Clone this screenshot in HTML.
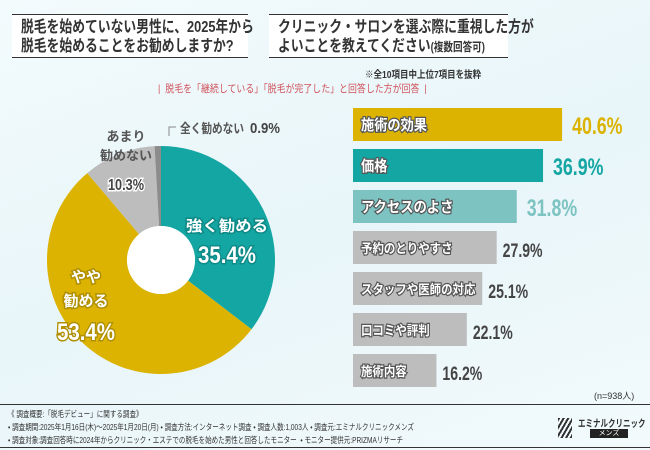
<!DOCTYPE html>
<html><head><meta charset="utf-8"><style>
body{margin:0}
#root{position:relative;width:650px;height:450px;overflow:hidden;background:linear-gradient(160deg,#f3fbfd 0%,#e8f5f9 50%,#f2fafc 100%);font-family:"Liberation Sans","Noto Sans CJK JP",sans-serif;color:#333}
.tb{position:absolute;background:#fff;border-top:1.5px solid #333;border-bottom:1.5px solid #333;box-sizing:border-box}
.tb span{position:absolute;left:9px;top:3px;display:block;white-space:nowrap;font-size:16px;font-weight:bold;line-height:19px;transform:scaleX(0.8);transform-origin:0 0}
.ft{position:absolute;left:8px;font-size:8.5px;color:#333;white-space:nowrap;transform:scaleX(0.77);transform-origin:0 0}
</style></head><body>
<div id="root">
<div class="tb" style="left:12px;top:14px;width:236px;height:44px"><span>脱毛を始めていない男性に、2025年から<br>脱毛を始めることをお勧めしますか?</span></div>
<div class="tb" style="left:269px;top:14px;width:239px;height:44px"><span>クリニック・サロンを選ぶ際に重視した方が<br>よいことを教えてください<small style="font-size:12px">(複数回答可)</small></span></div>
<div style="position:absolute;left:365px;top:66px;font-size:10px;font-weight:bold;white-space:nowrap;transform:scaleX(0.85);transform-origin:0 0">※全10項目中上位7項目を抜粋</div>
<div style="position:absolute;left:158px;top:81px;font-size:10.5px;color:#d0525a;white-space:nowrap;transform:scaleX(0.85);transform-origin:0 0">|&nbsp; 脱毛を「継続している」「脱毛が完了した」と回答した方が回答 &nbsp;|</div>
<svg id="chart" width="650" height="450" style="position:absolute;left:0;top:0"></svg>
<div style="position:absolute;left:594px;top:389px;font-size:9px">(n=938人)</div>
<div style="position:absolute;left:0;top:404px;width:650px;border-top:1px solid #333"></div>
<div style="position:absolute;left:0;top:447px;width:650px;border-top:1px solid #333"></div>
<div class="ft" style="top:408px">《 調査概要:「脱毛デビュー」に関する調査》</div>
<div class="ft" style="top:421px">• 調査期間:2025年1月16日(木)〜2025年1月20日(月) • 調査方法:インターネット調査 • 調査人数:1,003人 • 調査元:エミナルクリニックメンズ</div>
<div class="ft" style="top:434px">• 調査対象:調査回答時に2024年からクリニック・エステでの脱毛を始めた男性と回答したモニター &nbsp;• モニター提供元:PRIZMAリサーチ</div>
<div style="position:absolute;left:558px;top:418px;width:14px;height:20px;background:repeating-linear-gradient(120deg,#333 0 2px,transparent 2px 4px)"></div>
<div style="position:absolute;left:578px;top:415px;font-size:10px;font-weight:bold;white-space:nowrap;transform:scaleX(0.75);transform-origin:0 0">エミナルクリニック</div>
<div style="position:absolute;left:590px;top:429px;width:38px;height:9px;background:#222;color:#fff;font-size:7px;text-align:center;line-height:9px">メンズ</div>
</div>
<script>
const pieLabels=["強く勧める","やや勧める","あまり勧めない","全く勧めない"];
const pieValues=[35.4,53.4,10.3,0.9];
const pieColors=["#14a6a3","#dbb300","#bdbdbd","#8c8c8c"];
const barLabels=["施術の効果","価格","アクセスのよさ","予約のとりやすさ","スタッフや医師の対応","口コミや評判","施術内容"];
const barValues=[40.6,36.9,31.8,27.9,25.1,22.1,16.2];
const barColors=["#dbb300","#14a6a3","#7cc3c1","#bdbdbd","#bdbdbd","#bdbdbd","#bdbdbd"];
const valColors=["#dbb300","#14a6a3","#7cc3c1","#444","#444","#444","#444"];
const NS="http://www.w3.org/2000/svg";
const svg=document.getElementById('chart');
function mk(t,a){const e=document.createElementNS(NS,t);for(const k in a)e.setAttribute(k,a[k]);svg.appendChild(e);return e;}
const cx=161,cy=260,R=114,r0=34;
function pt(rad,frac){const a=frac*2*Math.PI-Math.PI/2;return [cx+rad*Math.cos(a),cy+rad*Math.sin(a)];}
let acc=0;const tot=pieValues.reduce((a,b)=>a+b,0);
pieValues.forEach((v,i)=>{const f0=acc/tot,f1=(acc+v)/tot;acc+=v;
const [x0,y0]=pt(R,f0),[x1,y1]=pt(R,f1),[x2,y2]=pt(r0,f1),[x3,y3]=pt(r0,f0);const lg=(f1-f0)>0.5?1:0;
const p=mk('path',{d:`M${x0},${y0}A${R},${R} 0 ${lg} 1 ${x1},${y1}L${x2},${y2}A${r0},${r0} 0 ${lg} 0 ${x3},${y3}Z`,fill:pieColors[i]});

});
mk('circle',{cx:cx,cy:cy,r:r0,fill:'#fff'});
function txt(x,y,s,size,fill,anchor,stroke,name,len){const t=mk('text',{x:x,y:y,'font-size':size,fill:fill,'text-anchor':anchor||'middle','font-weight':'bold','font-family':'"Liberation Sans","Noto Sans CJK JP",sans-serif'});
if(stroke){t.setAttribute('stroke',stroke);t.setAttribute('stroke-width','3');t.setAttribute('paint-order','stroke');}
if(len){t.setAttribute('textLength',len);t.setAttribute('lengthAdjust','spacingAndGlyphs');}
t.textContent=s;
return t;}
txt(227,231,pieLabels[0],15,'#fff','middle','#0e8a87','label-strongly',82);
txt(227,263,pieValues[0]+'%',24,'#fff','middle','#0e8a87','value-strongly',58);
txt(86,282,'やや',15,'#fff','middle','#b08f00','label-somewhat-1');
txt(86,306,'勧める',15,'#fff','middle','#b08f00','label-somewhat-2');
txt(86,340,pieValues[1]+'%',24,'#fff','middle','#b08f00','value-somewhat',58);
txt(126,141,'あまり',13,'#555','middle',null,'label-not-much-1');
txt(126,160,'勧めない',13,'#555','middle',null,'label-not-much-2');
txt(126,190,pieValues[2]+'%',16,'#444','middle','#fff','value-not-much',36);
txt(180,133,pieLabels[3],13,'#555','start',null,'label-not-at-all',64);
txt(250,133,pieValues[3]+'%',15,'#444','start',null,'value-not-at-all',30);
mk('polyline',{points:'169,136 169,127 176,127',fill:'none',stroke:'#888','stroke-width':1});
const bx=353,scale=5.15,by0=108,step=41,bh=33;
barValues.forEach((v,i)=>{const y=by0+i*step,w=v*scale;
const b=mk('rect',{x:bx,y:y,width:w,height:bh,fill:barColors[i]});


const fs=i<3?15:13;
const t=txt(bx+8,y+22,barLabels[i],fs,'#fff','start','#555','bar-label-'+i,barLabels[i].length*fs*0.88);
t.setAttribute('stroke-width','2.5');
const vs=i<3?24:19;
txt(bx+w+(i<3?10:6),y+26,v+'%',vs,valColors[i],'start',null,'bar-value-'+i,vs*2.1);});
</script>
</body></html>
